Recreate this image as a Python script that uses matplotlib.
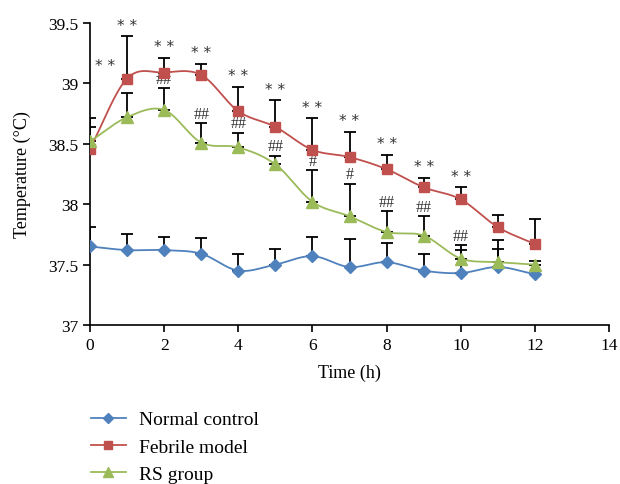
import numpy as np
import matplotlib
matplotlib.use('Agg')
import matplotlib.pyplot as plt

plt.rcParams['font.family'] = ['Liberation Serif', 'DejaVu Serif']

# data
hours = [0, 1, 2, 3, 4, 5, 6, 7, 8, 9, 10, 11, 12]
normal = [37.65, 37.62, 37.62, 37.59, 37.45, 37.50, 37.57, 37.48, 37.52, 37.45, 37.43, 37.48, 37.42]
normal_top = [37.81, 37.75, 37.73, 37.72, 37.59, 37.63, 37.73, 37.71, 37.68, 37.59, 37.62, 37.63, 37.42]
febrile = [38.46, 39.04, 39.09, 39.07, 38.77, 38.64, 38.45, 38.39, 38.29, 38.14, 38.04, 37.81, 37.67]
febrile_top = [38.71, 39.39, 39.21, 39.16, 38.97, 38.86, 38.71, 38.60, 38.41, 38.22, 38.14, 37.91, 37.88]
rs = [38.52, 38.72, 38.78, 38.51, 38.47, 38.33, 38.02, 37.90, 37.77, 37.74, 37.55, 37.52, 37.50]
rs_top = [38.64, 38.92, 38.96, 38.67, 38.59, 38.40, 38.28, 38.17, 37.94, 37.90, 37.66, 37.70, 37.53]

# significance marks
star_marks = ['', '* *', '* *', '* *', '* *', '* *', '* *', '* *', '* *', '* *', '* *', '', '']
hash_marks = ['', '', '##', '##', '##', '##', '#', '#', '##', '##', '##', '', '']
extra_star = (0.4, 39.15)

blue = '#4F81BD'
red = '#C0504D'
green = '#9BBB59'


def smooth(x, y, n=20):
    # catmull-rom curve through the points, like excel's smoothed line
    x = np.asarray(x, float)
    y = np.asarray(y, float)
    px = np.concatenate([[2 * x[0] - x[1]], x, [2 * x[-1] - x[-2]]])
    py = np.concatenate([[2 * y[0] - y[1]], y, [2 * y[-1] - y[-2]]])
    xs, ys = [], []
    t = np.linspace(0, 1, n)
    for i in range(1, len(px) - 2):
        for p, out in ((px, xs), (py, ys)):
            p0, p1, p2, p3 = p[i - 1], p[i], p[i + 1], p[i + 2]
            out.extend(0.5 * (2 * p1 + (-p0 + p2) * t
                              + (2 * p0 - 5 * p1 + 4 * p2 - p3) * t ** 2
                              + (-p0 + 3 * p1 - 3 * p2 + p3) * t ** 3))
    return xs, ys


fig = plt.figure(figsize=(6.2, 4.85), dpi=100)
ax = fig.add_axes([90 / 620, 1 - 326 / 485, 519 / 620, 302 / 485])

series = [
    (normal, normal_top, blue, 'D', 6, 'Normal control'),
    (febrile, febrile_top, red, 's', 7.5, 'Febrile model'),
    (rs, rs_top, green, '^', 8, 'RS group'),
]

for vals, top, col, mk, ms, lab in series:
    err = np.array(top) - np.array(vals)
    ax.errorbar(hours, vals, yerr=[np.zeros(len(err)), err], fmt='none',
                ecolor='black', elinewidth=1.3, capsize=4, capthick=1.3, zorder=2)
    sx, sy = smooth(hours, vals)
    ax.plot(sx, sy, color=col, lw=1.3, zorder=3)
    ax.plot(hours, vals, ls='none', marker=mk, ms=ms, color=col, mec=col, zorder=4)
    ax.plot([], [], color=col, lw=1.3, marker=mk, ms=ms * 0.85, label=lab)

for h, s, t in zip(hours, star_marks, febrile_top):
    if s:
        ax.annotate(s, (h, t), xytext=(0, 8), textcoords='offset points',
                    ha='center', va='center', fontsize=11, color='#333333',
                    family='DejaVu Sans')
for h, s, t in zip(hours, hash_marks, rs_top):
    if s:
        ax.annotate(s, (h, t), xytext=(0, 7), textcoords='offset points',
                    ha='center', va='center', fontsize=11.5, color='#333333')
ax.text(extra_star[0], extra_star[1], '* *', ha='center', va='center',
        fontsize=11, color='#333333', family='DejaVu Sans')

ax.set_xlim(0, 14)
ax.set_ylim(37, 39.5)
ax.set_xticks(range(0, 15, 2))
ax.set_yticks([37, 37.5, 38, 38.5, 39, 39.5])
ax.set_yticklabels(['37', '37.5', '38', '38.5', '39', '39.5'])
ax.spines['top'].set_visible(False)
ax.spines['right'].set_visible(False)
ax.spines['left'].set_linewidth(1.2)
ax.spines['bottom'].set_linewidth(1.2)
ax.tick_params(direction='out', length=5, width=1.2, labelsize=12.5)
ax.set_xlabel('Time (h)', fontsize=13, labelpad=8)
ax.set_ylabel('Temperature (°C)', fontsize=13, labelpad=12)

fig.legend(loc='upper left', bbox_to_anchor=(81 / 620, 1 - 402 / 485), frameon=False,
           fontsize=14, handlelength=1.8, labelspacing=0.5, borderpad=0,
           handletextpad=0.7)

fig.savefig('out.png', dpi=100)
